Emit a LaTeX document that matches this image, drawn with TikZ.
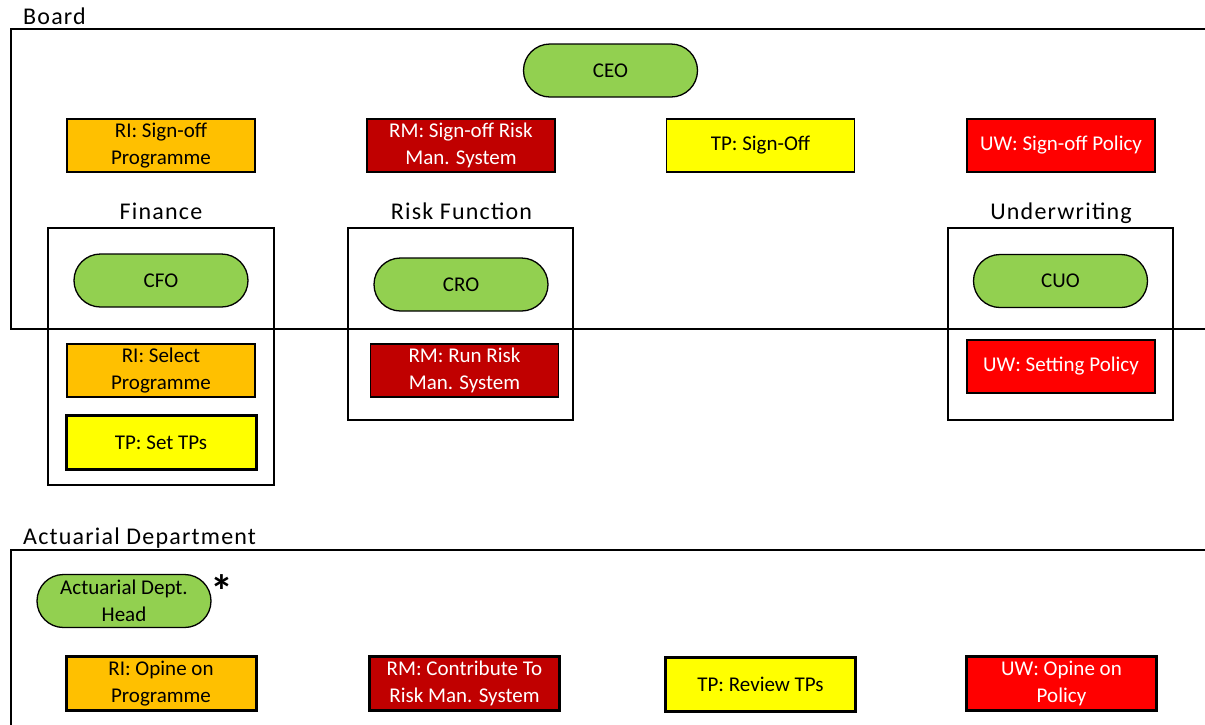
\documentclass[tikz,border=0pt]{standalone}
\usepackage{fontspec}
\setmainfont{Carlito}
\newfontfamily\titlefont[LetterSpace=5]{Carlito}
\definecolor{leadgreen}{HTML}{92D050}
\definecolor{riorange}{HTML}{FFC000}
\definecolor{rmred}{HTML}{C00000}
\definecolor{tpyellow}{HTML}{FFFF00}
\definecolor{uwred}{HTML}{FF0000}
\begin{document}
\begin{tikzpicture}[x=1pt,y=-1pt,
  boxtext/.style={font=\fontsize{21}{26.5}\selectfont, align=center, inner sep=0pt},
  pill/.style={boxtext, draw=black, line width=1.3pt, fill=leadgreen,
    minimum width=174pt, minimum height=53pt, rounded corners=26.5pt},
  task/.style={boxtext, draw=black, line width=1.3pt,
    minimum width=188pt, minimum height=53pt},
  keytask/.style={task, line width=3pt, minimum width=190pt, minimum height=54pt},
  ritask/.style={fill=riorange},
  rmtask/.style={fill=rmred, text=white},
  tptask/.style={fill=tpyellow},
  uwtask/.style={fill=uwred, text=white},
  frame/.style={draw=black, line width=1.3pt},
  title/.style={font=\titlefont\fontsize{24}{28}\selectfont, inner sep=0pt}]
\useasboundingbox (0,0) rectangle (1205,724);
\clip (0,0) rectangle (1205,724);

% Board and its committees
\draw[frame] (11,29) rectangle (1230,329);
\node[title, anchor=base west] (boardlbl) at (23,24) {Board};
\node[pill] (ceo) at (610.5,70.5) {CEO};
\node[task, ritask] (riboard) at (161,145.5) {RI: Sign-off\\Programme};
\node[task, rmtask] (rmboard) at (461,145.5) {RM: Sign-off Risk\\Man. System};
\node[task, tptask] (tpboard) at (760.5,145.5) {TP: Sign-Off};
\node[task, uwtask] (uwboard) at (1061,145.5) {UW: Sign-off Policy};

% Finance
\draw[frame] (48,228) rectangle (274,485);
\node[title, anchor=base] (finlbl) at (161,219) {Finance};
\node[pill] (cfo) at (161,280.5) {CFO};
\node[task, ritask] (rifin) at (161,370.5) {RI: Select\\Programme};
\node[keytask, tptask] (tpfin) at (161,442.5) {TP: Set TPs};

% Risk function
\draw[frame] (348,228) rectangle (573,420);
\node[title, anchor=base] (risklbl) at (461.5,219) {Risk Function};
\node[pill] (cro) at (461,284.5) {CRO};
\node[task, rmtask] (rmrisk) at (464.5,370.5) {RM: Run Risk\\Man. System};

% Underwriting
\draw[frame] (948,228) rectangle (1173,420);
\node[title, anchor=base] (uwlbl) at (1061,219) {Underwriting};
\node[pill] (cuo) at (1060.5,281) {CUO};
\node[task, uwtask] (uwuw) at (1061,366.5) {UW: Setting Policy};

% Actuarial department
\draw[frame] (11,550) rectangle (1230,760);
\node[title, anchor=base west] (actlbl) at (23,544) {Actuarial Department};
\node[pill] (acthead) at (124,601) {Actuarial Dept.\\Head};
\node[anchor=north, inner sep=0pt, font=\fontsize{46}{46}\selectfont\bfseries] (star) at (222,574) {*};
\node[keytask, ritask] (riact) at (161,683.5) {RI: Opine on\\Programme};
\node[keytask, rmtask] (rmact) at (464.5,683.5) {RM: Contribute To\\Risk Man. System};
\node[keytask, tptask] (tpact) at (760.5,684) {TP: Review TPs};
\node[keytask, uwtask] (uwact) at (1061.5,683.5) {UW: Opine on\\Policy};
\end{tikzpicture}
\end{document}
